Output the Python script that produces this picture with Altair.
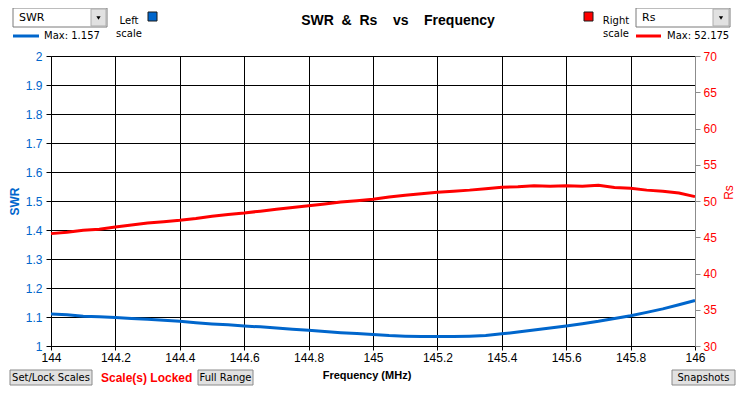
import altair as alt
import pandas as pd

freq = [144.00, 144.05, 144.10, 144.15, 144.20, 144.25, 144.30, 144.35, 144.40, 144.45,
        144.50, 144.55, 144.60, 144.65, 144.70, 144.75, 144.80, 144.85, 144.90, 144.95,
        145.00, 145.05, 145.10, 145.15, 145.20, 145.25, 145.30, 145.35, 145.40, 145.45,
        145.50, 145.55, 145.60, 145.65, 145.70, 145.75, 145.80, 145.85, 145.90, 145.95,
        146.00]
swr = [1.110, 1.108, 1.103, 1.101, 1.098, 1.095, 1.092, 1.089, 1.085, 1.080,
       1.076, 1.073, 1.069, 1.066, 1.062, 1.058, 1.054, 1.050, 1.046, 1.043,
       1.040, 1.036, 1.034, 1.033, 1.033, 1.033, 1.034, 1.036, 1.042, 1.048,
       1.055, 1.062, 1.069, 1.077, 1.085, 1.095, 1.104, 1.116, 1.128, 1.142,
       1.157]
rs = [45.50, 45.70, 45.95, 46.10, 46.40, 46.70, 46.95, 47.15, 47.35, 47.60,
      47.90, 48.15, 48.35, 48.60, 48.85, 49.10, 49.35, 49.60, 49.85, 50.05,
      50.25, 50.55, 50.80, 51.00, 51.20, 51.35, 51.50, 51.70, 51.90, 51.95,
      52.10, 52.05, 52.10, 52.05, 52.175, 51.85, 51.75, 51.50, 51.35, 51.10,
      50.60]
x_ticks = [144, 144.2, 144.4, 144.6, 144.8, 145, 145.2, 145.4, 145.6, 145.8, 146]
swr_ticks = [1, 1.1, 1.2, 1.3, 1.4, 1.5, 1.6, 1.7, 1.8, 1.9, 2]
rs_ticks = [30, 35, 40, 45, 50, 55, 60, 65, 70]

BLUE = "#0066CC"
RED = "#FF0000"
AX_FONT = "Liberation Sans"
UI_FONT = "DejaVu Sans"
NB = "\u00a0"

df = pd.DataFrame({"freq": freq, "swr": swr, "rs": rs})

OX, OY = 51, 56  # plot origin on page
one = alt.Data(values=[{}])


def rect(x1, y1, x2, y2, fill, stroke=None, sw=1):
    kw = dict(fill=fill, strokeWidth=sw)
    if stroke:
        kw["stroke"] = stroke
    return alt.Chart(one).mark_rect(**kw).encode(
        x=alt.value(x1 - OX), x2=alt.value(x2 - OX),
        y=alt.value(y1 - OY), y2=alt.value(y2 - OY))


def text(px, py, s, size=10, color="black", weight="normal", align="left", font=UI_FONT):
    return alt.Chart(one).mark_text(
        text=s, fontSize=size, color=color, fontWeight=weight, align=align,
        baseline="middle", font=font).encode(x=alt.value(px - OX), y=alt.value(py - OY))


def hline(x1, x2, y, color, w):
    return alt.Chart(one).mark_rule(color=color, strokeWidth=w).encode(
        x=alt.value(x1 - OX), x2=alt.value(x2 - OX), y=alt.value(y - OY))


def tri(px, py):
    return alt.Chart(one).mark_point(shape="triangle-down", filled=True, size=18,
                                     color="black", opacity=1).encode(
        x=alt.value(px - OX), y=alt.value(py - OY))


xenc = alt.X("freq:Q", scale=alt.Scale(domain=[144, 146], nice=False, zero=False),
             axis=alt.Axis(values=x_ticks, format=".1~f", title=None, grid=True,
                           gridColor="black", gridWidth=1, gridOpacity=1,
                           domainColor="black", tickColor="black", tickSize=4,
                           labelColor="black", labelFont=AX_FONT, labelFontSize=12,
                           labelPadding=2, labelFlush=False))

swr_line = alt.Chart(df).mark_line(color=BLUE, strokeWidth=3).encode(
    x=xenc,
    y=alt.Y("swr:Q", scale=alt.Scale(domain=[1, 2], nice=False, zero=False),
            axis=alt.Axis(values=swr_ticks, format=".1~f", title="SWR", orient="left",
                          grid=True, gridColor="black", gridWidth=1, gridOpacity=1,
                          domainColor="black", tickColor="black", tickSize=5,
                          labelColor=BLUE, labelFont=AX_FONT, labelFontSize=12,
                          labelPadding=4, titleColor=BLUE, titleFont=AX_FONT,
                          titleFontSize=12, titleFontWeight="bold", titleAngle=-90,
                          titleX=-37, titleY=145, titleBaseline="middle",
                          titleAlign="center")))

rs_line = alt.Chart(df).mark_line(color=RED, strokeWidth=3).encode(
    x=xenc,
    y=alt.Y("rs:Q", scale=alt.Scale(domain=[30, 70], nice=False, zero=False),
            axis=alt.Axis(values=rs_ticks, title="Rs", orient="right", grid=False,
                          domainColor="#8c8c8c", tickColor="#8c8c8c", tickSize=5,
                          labelColor=RED, labelFont=AX_FONT, labelFontSize=12,
                          labelPadding=3, titleColor=RED, titleFont=AX_FONT,
                          titleFontSize=12, titleFontWeight="normal", titleAngle=-90,
                          titleX=33, titleY=136, titleBaseline="middle",
                          titleAlign="center", zindex=1)))

title_txt = "SWR" + NB + NB + "&" + NB + NB + "Rs" + NB * 4 + "vs" + NB * 4 + "Frequency"

BY1, BY2 = 370, 385
BYC = (BY1 + BY2) / 2

decor = [
    # title
    text(398, 21, title_txt, size=14, weight="bold", align="center", font=AX_FONT),
    # left combo
    rect(13, 8, 107, 27, "white", "#7a7a7a"),
    rect(91, 9, 106, 26, "#e1e1e1", "#adadad"),
    tri(98.5, 18),
    text(19, 18, "SWR", size=11),
    hline(13, 39, 36, BLUE, 3),
    text(44, 36, "Max: 1.157", size=10),
    text(129, 21, "Left", size=10, align="center"),
    text(129, 34, "scale", size=10, align="center"),
    rect(148, 12, 157, 21, BLUE, "#1a1a1a"),
    # right combo
    rect(584, 12, 593, 21, RED, "#1a1a1a"),
    text(616, 21, "Right", size=10, align="center"),
    text(616, 34, "scale", size=10, align="center"),
    rect(636, 8, 730, 27, "white", "#7a7a7a"),
    rect(713, 9, 729, 26, "#e1e1e1", "#adadad"),
    tri(721, 18),
    text(642, 18, "Rs", size=11),
    hline(636, 661, 36, RED, 3),
    text(667, 36, "Max: 52.175", size=10),
    # bottom
    rect(10, BY1, 92, BY2, "#e1e1e1", "#8a8a8a"),
    text(51, BYC, "Set/Lock Scales", size=10, align="center"),
    text(101, BYC, "Scale(s) Locked", size=12, color=RED, weight="bold", font=AX_FONT),
    rect(198, BY1, 253, BY2, "#e1e1e1", "#8a8a8a"),
    text(225.5, BYC, "Full Range", size=10, align="center"),
    text(367, 376, "Frequency (MHz)", size=11, weight="bold", align="center", font=AX_FONT),
    rect(672, BY1, 735, BY2, "#e1e1e1", "#8a8a8a"),
    text(703.5, BYC, "Snapshots", size=10, align="center"),
]

chart = alt.layer(swr_line, rs_line, *decor).resolve_scale(y="independent").properties(
    width=644, height=290,
    autosize=alt.AutoSizeParams(type="none"),
    padding={"left": 43, "top": 48, "right": 41, "bottom": 40},
    background="white",
).configure_view(strokeWidth=0)

chart.save("out.html", embed_options={"renderer": "svg", "actions": False})
